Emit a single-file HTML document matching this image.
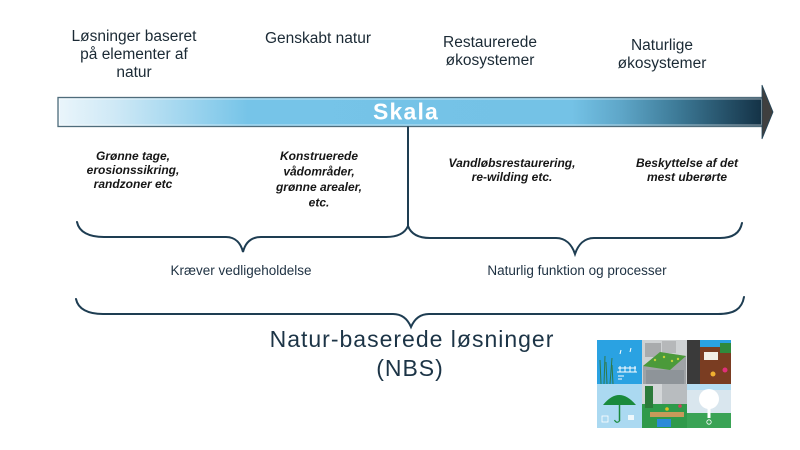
<!DOCTYPE html>
<html>
<head>
<meta charset="utf-8">
<style>
  html, body { margin:0; padding:0; background:#ffffff; }
  body { width:800px; height:450px; overflow:hidden; }
  svg { display:block; }
  .top { font-family:"Liberation Sans", sans-serif; font-size:15.5px; fill:#1b2a35; }
  .it { font-family:"Liberation Sans", sans-serif; font-size:12px; font-weight:bold; font-style:italic; fill:#161616; }
  .bot { font-family:"Liberation Sans", sans-serif; font-size:13.5px; fill:#1e3142; }
  .big { font-family:"Liberation Sans", sans-serif; font-size:23px; letter-spacing:1px; fill:#1c3446; }
</style>
</head>
<body>
<svg width="800" height="450" viewBox="0 0 800 450" xmlns="http://www.w3.org/2000/svg">
  <defs>
    <linearGradient id="bar" gradientUnits="userSpaceOnUse" x1="58" y1="0" x2="762" y2="0">
      <stop offset="0" stop-color="#eaf5fb"/>
      <stop offset="0.08" stop-color="#cfe9f6"/>
      <stop offset="0.27" stop-color="#76c4e8"/>
      <stop offset="0.73" stop-color="#74c2e6"/>
      <stop offset="0.80" stop-color="#5ea6c8"/>
      <stop offset="0.88" stop-color="#3d7a97"/>
      <stop offset="1" stop-color="#143246"/>
    </linearGradient>
  </defs>

  <!-- Top labels -->
  <text class="top" text-anchor="middle" x="134" y="41">Løsninger baseret</text>
  <text class="top" text-anchor="middle" x="134" y="59">på elementer af</text>
  <text class="top" text-anchor="middle" x="134" y="77">natur</text>

  <text class="top" text-anchor="middle" x="318" y="43">Genskabt natur</text>

  <text class="top" text-anchor="middle" x="490" y="47">Restaurerede</text>
  <text class="top" text-anchor="middle" x="490" y="65">økosystemer</text>

  <text class="top" text-anchor="middle" x="662" y="50">Naturlige</text>
  <text class="top" text-anchor="middle" x="662" y="68">økosystemer</text>

  <!-- Scale bar -->
  <rect x="58" y="97.5" width="704" height="29" fill="url(#bar)" stroke="#4f6c7b" stroke-width="1.3"/>
  <rect x="59.5" y="99" width="702" height="26" fill="none" stroke="#ffffff" stroke-opacity="0.55" stroke-width="1"/>
  <polygon points="762,85 773,112 762,139" fill="#3f3f3f" stroke="#24465a" stroke-width="0.8"/>
  <text x="406" y="119.5" text-anchor="middle" font-family="Liberation Sans, sans-serif" font-size="23" font-weight="bold" letter-spacing="1.2" fill="#ffffff">Skala</text>

  <!-- Vertical divider -->
  <line x1="408" y1="126.5" x2="408" y2="227" stroke="#1e3d52" stroke-width="2"/>

  <!-- Italic labels -->
  <text class="it" text-anchor="middle" x="133" y="160">Grønne tage,</text>
  <text class="it" text-anchor="middle" x="133" y="174">erosionssikring,</text>
  <text class="it" text-anchor="middle" x="133" y="188">randzoner etc</text>

  <text class="it" text-anchor="middle" x="319" y="160">Konstruerede</text>
  <text class="it" text-anchor="middle" x="319" y="175.5">vådområder,</text>
  <text class="it" text-anchor="middle" x="319" y="191">grønne arealer,</text>
  <text class="it" text-anchor="middle" x="319" y="206.5">etc.</text>

  <text class="it" text-anchor="middle" x="512" y="167">Vandløbsrestaurering,</text>
  <text class="it" text-anchor="middle" x="512" y="181">re-wilding etc.</text>

  <text class="it" text-anchor="middle" x="687" y="167">Beskyttelse af det</text>
  <text class="it" text-anchor="middle" x="687" y="181">mest uberørte</text>

  <!-- Braces -->
  <g fill="none" stroke="#1e3d52" stroke-width="2" stroke-linecap="round">
    <path d="M77,222 C79,232 89,237 104,237 L226,237 C236,237 241,244 243,252 C245,244 250,237 261,237 L386,237 C398,237 405,233 408,226"/>
    <path d="M408,226 C411,234 418,238 430,238 L556,238 C566,238 572,245 575,254 C578,245 584,238 594,238 L720,238 C733,238 740,233 742,223"/>
    <path d="M76,299 C78,309 88,314 103,314 L393,314 C403,314 408,320 411,327 C414,320 419,314 429,314 L718,314 C734,314 742,309 744,297"/>
  </g>

  <!-- Bottom labels -->
  <text class="bot" text-anchor="middle" x="241" y="275">Kræver vedligeholdelse</text>
  <text class="bot" text-anchor="middle" x="577" y="275">Naturlig funktion og processer</text>

  <text class="big" text-anchor="middle" x="412" y="347">Natur-baserede løsninger</text>
  <text class="big" text-anchor="middle" x="410" y="376">(NBS)</text>

  <!-- Illustration -->
  <g>
    <!-- TL -->
    <rect x="597" y="340" width="45" height="44" fill="#2aa2e2"/>
    <g stroke="#2f7a4a" stroke-width="1">
      <line x1="601" y1="384" x2="600" y2="360"/>
      <line x1="604" y1="384" x2="605" y2="356"/>
      <line x1="607" y1="384" x2="606" y2="362"/>
      <line x1="610" y1="384" x2="612" y2="358"/>
      <line x1="613" y1="384" x2="612" y2="365"/>
    </g>
    <g stroke="#ffffff" stroke-width="1" fill="none">
      <path d="M617,372 L637,372 M618,368 L636,368 M620,366 L620,372 M625,366 L625,372 M630,366 L630,372 M635,366 L635,372"/>
      <path d="M618,376 L624,376 M618,379 L622,379"/>
      <path d="M620,354 L621,350 M630,352 L631,348"/>
    </g>
    <!-- TM -->
    <rect x="642" y="340" width="45" height="44" fill="#cfd2d4"/>
    <rect x="645" y="343" width="16" height="14" fill="#a9abad"/>
    <rect x="662" y="341" width="14" height="12" fill="#b6b8ba"/>
    <polygon points="643,366 660,352 686,356 686,384 643,384" fill="#9fa3a6"/>
    <polygon points="643,366 660,352 686,356 670,370" fill="#4b9a3a"/>
    <rect x="646" y="370" width="38" height="14" fill="#8e9499"/>
    <g fill="#c6d33a"><circle cx="655" cy="360" r="1.2"/><circle cx="664" cy="357" r="1.2"/><circle cx="672" cy="361" r="1.2"/><circle cx="678" cy="359" r="1.2"/></g>
    <!-- TR -->
    <rect x="687" y="340" width="44" height="44" fill="#2aa2e2"/>
    <rect x="687" y="340" width="13" height="44" fill="#3a3a3a"/>
    <rect x="700" y="347" width="31" height="37" fill="#7a3d22"/>
    <rect x="720" y="343" width="11" height="10" fill="#2f8a3c"/>
    <rect x="704" y="352" width="14" height="8" fill="#f2efe6"/>
    <circle cx="713" cy="374" r="2.5" fill="#f0b030"/>
    <circle cx="725" cy="370" r="2.5" fill="#e0307a"/>
    <!-- BL -->
    <rect x="597" y="384" width="45" height="44" fill="#abd9f1"/>
    <path d="M603,405 Q619,385 636,405 Z" fill="#1a8a3c"/>
    <line x1="619.5" y1="405" x2="619.5" y2="421" stroke="#1a8a3c" stroke-width="1.5"/>
    <path d="M619.5,421 q-3,3 -5,-1" fill="none" stroke="#1a8a3c" stroke-width="1.2"/>
    <rect x="602" y="416" width="6" height="6" fill="none" stroke="#ffffff" stroke-width="0.8"/>
    <rect x="628" y="415" width="6" height="5" fill="#ffffff" opacity="0.8"/>
    <!-- BM -->
    <rect x="642" y="384" width="45" height="44" fill="#d3d6d8"/>
    <rect x="662" y="384" width="25" height="24" fill="#b8bcbf"/>
    <rect x="642" y="404" width="45" height="24" fill="#2f9a4a"/>
    <rect x="645" y="386" width="8" height="22" fill="#2c7a3a"/>
    <rect x="650" y="412" width="34" height="5" fill="#c89a5a"/>
    <rect x="657" y="419" width="14" height="8" fill="#2a8ad8"/>
    <circle cx="667" cy="409" r="1.8" fill="#e0c020"/>
    <circle cx="680" cy="406" r="1.8" fill="#d04060"/>
    <!-- BR -->
    <rect x="687" y="384" width="44" height="44" fill="#d9e6ee"/>
    <rect x="687" y="384" width="44" height="6" fill="#b6def3"/>
    <rect x="687" y="413" width="44" height="15" fill="#3aa355"/>
    <circle cx="709" cy="399" r="10" fill="#ffffff"/>
    <rect x="707.5" y="405" width="3" height="13" fill="#ffffff"/>
    <circle cx="709" cy="422" r="2.2" fill="none" stroke="#ffffff" stroke-width="0.8"/>
  </g>
</svg>
</body>
</html>
